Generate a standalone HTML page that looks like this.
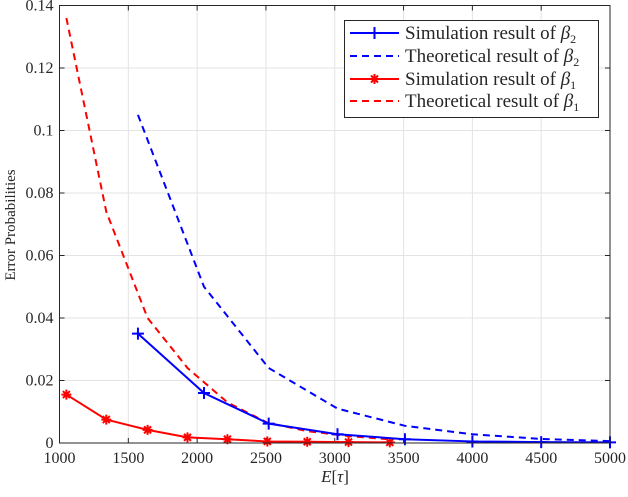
<!DOCTYPE html>
<html><head><meta charset="utf-8"><style>
body{margin:0;background:#fff}
svg text{font-family:"Liberation Serif",serif;fill:#262626}
</style></head><body>
<svg id="chart" width="628" height="492" viewBox="0 0 628 492" xmlns="http://www.w3.org/2000/svg">
<rect x="0" y="0" width="628" height="492" fill="#fff"/>
<g id="grid"></g>
<g id="ticks"></g>
<g id="series"></g>
<rect x="59.5" y="5.5" width="550.5" height="437.5" fill="none" stroke="#262626" stroke-width="1"/>
<text transform="translate(15,225) rotate(-90)" text-anchor="middle" font-size="15">Error Probabilities</text>
<text x="335" y="482" text-anchor="middle" font-size="17"><tspan font-style="italic">E</tspan>[<tspan font-style="italic">τ</tspan>]</text>
<g>
<rect x="344.5" y="20.5" width="254" height="97" fill="#fff" stroke="#262626" stroke-width="1"/>
<g>
<line x1="350" y1="33" x2="399" y2="33" stroke="#0000ff" stroke-width="2"/>
<path d="M374.5 27v12M368.5 33h12" stroke="#0000ff" stroke-width="2"/>
<text x="405" y="39" font-size="19">Simulation result of <tspan font-style="italic">β</tspan><tspan font-size="12" dy="4">2</tspan></text></g>
<g>
<line x1="350" y1="56" x2="399" y2="56" stroke="#0000ff" stroke-width="2" stroke-dasharray="7,5"/>
<text x="405" y="62" font-size="19">Theoretical result of <tspan font-style="italic">β</tspan><tspan font-size="12" dy="4">2</tspan></text></g>
<g>
<line x1="350" y1="79" x2="399" y2="79" stroke="#ff0000" stroke-width="2"/>
<path d="M369.5 79h10M374.5 74v10M371 75.5l7 7M371 82.5l7 -7" stroke="#ff0000" stroke-width="2"/>
<text x="405" y="85" font-size="19">Simulation result of <tspan font-style="italic">β</tspan><tspan font-size="12" dy="4">1</tspan></text></g>
<g>
<line x1="350" y1="101" x2="399" y2="101" stroke="#ff0000" stroke-width="2" stroke-dasharray="7,5"/>
<text x="405" y="107" font-size="19">Theoretical result of <tspan font-style="italic">β</tspan><tspan font-size="12" dy="4">1</tspan></text></g>
</g>
</svg>
<script>
const xTicks=[1000,1500,2000,2500,3000,3500,4000,4500,5000];
const yTicks=[0,0.02,0.04,0.06,0.08,0.1,0.12,0.14];
const yTickLabels=["0","0.02","0.04","0.06","0.08","0.1","0.12","0.14"];
const sim2X=[1570,2050,2520,3020,3510,4000,4500,5000];
const sim2Y=[0.035,0.016,0.0062,0.0028,0.0012,0.0005,0.0003,0.0002];
const theo2X=[1570,2050,2520,3020,3510,4000,4500,5000];
const theo2Y=[0.105,0.050,0.024,0.011,0.0055,0.0028,0.0013,0.0006];
const sim1X=[1050,1340,1640,1930,2220,2510,2800,3100,3400];
const sim1Y=[0.0155,0.0075,0.0042,0.0018,0.0012,0.0005,0.0004,0.0003,0.0002];
const theo1X=[1050,1340,1640,1930,2220,2510,2800,3100,3400];
const theo1Y=[0.136,0.074,0.040,0.024,0.013,0.0065,0.0038,0.0022,0.0012];

const NS="http://www.w3.org/2000/svg";
const X0=59.5,X1=610,Y0=443,Y1=5.5;
const sx=v=>X0+(v-1000)/4000*(X1-X0);
const sy=v=>Y0-v/0.14*(Y0-Y1);
function mk(tag,attrs,parent){const e=document.createElementNS(NS,tag);for(const k in attrs)e.setAttribute(k,attrs[k]);parent.appendChild(e);return e;}
const grid=document.getElementById('grid'),ticks=document.getElementById('ticks'),series=document.getElementById('series');
xTicks.forEach(v=>{const x=sx(v);
 const g=mk('line',{x1:x,y1:Y1,x2:x,y2:Y0,stroke:'#e3e3e3','stroke-width':1},grid);
 
 
 mk('line',{x1:x,y1:Y0,x2:x,y2:Y0-5,stroke:'#262626'},ticks);
 mk('line',{x1:x,y1:Y1,x2:x,y2:Y1+5,stroke:'#262626'},ticks);
 const t=mk('text',{x:x,y:Y0+20,'text-anchor':'middle','font-size':16},ticks);t.textContent=v;
 
 
});
yTicks.forEach((v,i)=>{const y=sy(v);
 const g=mk('line',{x1:X0,y1:y,x2:X1,y2:y,stroke:'#e3e3e3','stroke-width':1},grid);
 
 
 mk('line',{x1:X0,y1:y,x2:X0+5,y2:y,stroke:'#262626'},ticks);
 mk('line',{x1:X1,y1:y,x2:X1-5,y2:y,stroke:'#262626'},ticks);
 const t=mk('text',{x:X0-6,y:y+5,'text-anchor':'end','font-size':16},ticks);t.textContent=yTickLabels[i];
 
 
});
function line(xs,ys,color,dash,name){const p=mk('polyline',{points:xs.map((x,i)=>sx(x)+','+sy(ys[i])).join(' '),fill:'none',stroke:color,'stroke-width':2,'stroke-dasharray':dash||'none'},series);
 
 }
line(theo2X,theo2Y,'#0000ff','7,5','theory-beta2-line');
line(theo1X,theo1Y,'#ff0000','7,5','theory-beta1-line');
line(sim1X,sim1Y,'#ff0000',null,'sim-beta1-line');
sim1X.forEach((x,i)=>{const cx=sx(x),cy=sy(sim1Y[i]);
 const g=mk('g',{stroke:'#ff0000','stroke-width':2},series);
 
 
 mk('path',{d:`M${cx-5} ${cy}h10M${cx} ${cy-5}v10M${cx-3.5} ${cy-3.5}l7 7M${cx-3.5} ${cy+3.5}l7 -7`},g);});
line(sim2X,sim2Y,'#0000ff',null,'sim-beta2-line');
sim2X.forEach((x,i)=>{const cx=sx(x),cy=sy(sim2Y[i]);
 const p=mk('path',{d:`M${cx-6} ${cy}h12M${cx} ${cy-6}v12`,stroke:'#0000ff','stroke-width':2},series);
 
 });
</script>
</body></html>
